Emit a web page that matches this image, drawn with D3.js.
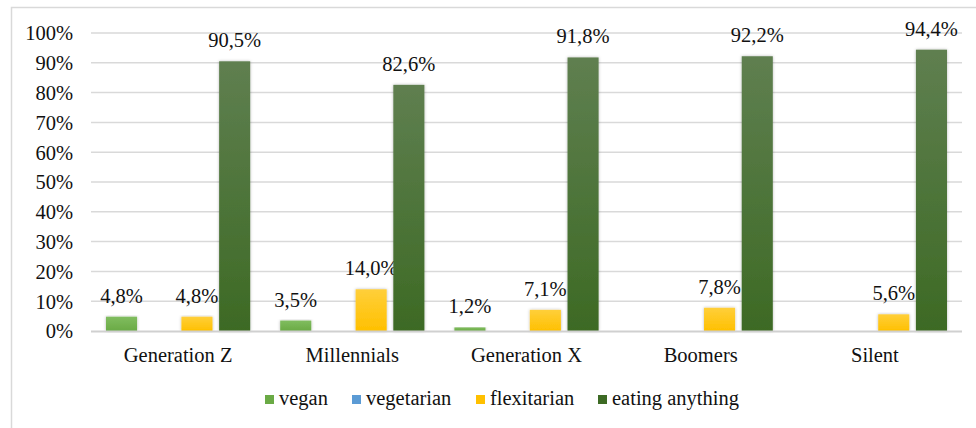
<!DOCTYPE html>
<html>
<head>
<meta charset="utf-8">
<script src="https://cdn.jsdelivr.net/npm/d3@7/dist/d3.min.js"></script>
<style>
  html, body { margin: 0; padding: 0; background: #fff; }
  svg { display: block; }
  text { font-family: "Liberation Serif", "Times New Roman", serif; fill: #111; }
</style>
</head>
<body>
<svg id="chart" width="976" height="428"></svg>
<script>
// Diet shares by generation
const categories = ["Generation Z", "Millennials", "Generation X", "Boomers", "Silent"];
const seriesNames = ["vegan", "vegetarian", "flexitarian", "eating anything"];
const vegan = [4.8, 3.5, 1.2, 0, 0];
const vegetarian = [0, 0, 0, 0, 0];
const flexitarian = [4.8, 14.0, 7.1, 7.8, 5.6];
const eatingAnything = [90.5, 82.6, 91.8, 92.2, 94.4];
const yTicks = [0, 10, 20, 30, 40, 50, 60, 70, 80, 90, 100];

const seriesValues = [vegan, vegetarian, flexitarian, eatingAnything];
const colors = {
  "vegan": ["#80bd5f", "#6aaa45"],
  "vegetarian": ["#74aee0", "#5b9bd5"],
  "flexitarian": ["#ffcf3a", "#ffc000"],
  "eating anything": ["#5f7f50", "#3d6a24"]
};

const svg = d3.select("#chart");
const defs = svg.append("defs");

seriesNames.forEach((s, i) => {
  const g = defs.append("linearGradient")
    .attr("id", "grad" + i).attr("x1", 0).attr("y1", 0).attr("x2", 0).attr("y2", 1);
  g.append("stop").attr("offset", "0%").attr("stop-color", colors[s][0]);
  g.append("stop").attr("offset", "100%").attr("stop-color", colors[s][1]);
});

const shadow = defs.append("filter").attr("id", "shadow")
  .attr("x", "-30%").attr("y", "-10%").attr("width", "160%").attr("height", "120%");
shadow.append("feDropShadow").attr("dx", 0).attr("dy", 0)
  .attr("stdDeviation", 1.6).attr("flood-color", "#000").attr("flood-opacity", 0.28);

// Outer chart frame
svg.append("path")
  .attr("d", "M11.5,430 V7.5 H980")
  .attr("fill", "none").attr("stroke", "#d9d9d9").attr("stroke-width", 1.5);

const plotLeft = 91, plotRight = 962, plotTop = 33, plotBottom = 331;

const y = d3.scaleLinear().domain([0, 100]).range([plotBottom, plotTop]);
const x0 = d3.scaleBand().domain(categories).range([plotLeft, plotRight]).padding(0);
const x1 = d3.scaleBand().domain(seriesNames)
  .range([15, x0.bandwidth() - 15]).paddingInner(0.176).paddingOuter(0);

// Gridlines
svg.append("g").selectAll("line").data(yTicks.filter(t => t > 0)).join("line")
  .attr("x1", plotLeft).attr("x2", plotRight)
  .attr("y1", d => y(d)).attr("y2", d => y(d))
  .attr("stroke", "#d9d9d9").attr("stroke-width", 1.5);

// Y axis labels
const yAxis = d3.axisLeft(y).tickValues(yTicks).tickFormat(d => d + "%").tickSize(0).tickPadding(0);
const yg = svg.append("g").attr("transform", `translate(${plotLeft - 18},0)`).call(yAxis);
yg.select(".domain").remove();
yg.selectAll("text")
  .attr("font-family", "Liberation Serif, serif").attr("font-size", 20.5)
  .attr("fill", "#111").attr("dy", "0.34em");

// Bars
const groups = svg.append("g").selectAll("g").data(categories).join("g")
  .attr("transform", d => `translate(${x0(d)},0)`);

const cells = groups.selectAll("g").data((c, ci) => seriesNames.map((s, si) => ({
  cat: c, series: s, si: si, value: seriesValues[si][ci]
}))).join("g");

cells.filter(d => d.value > 0).append("rect")
  .attr("x", d => x1(d.series))
  .attr("width", x1.bandwidth())
  .attr("y", d => y(d.value))
  .attr("height", d => y(0) - y(d.value))
  .attr("fill", d => `url(#grad${d.si})`)
  .attr("filter", "url(#shadow)");

cells.filter(d => d.value > 0).append("text")
  .attr("x", d => x1(d.series) + x1.bandwidth() / 2)
  .attr("y", d => y(d.value) - 14)
  .attr("text-anchor", "middle")
  .attr("font-size", 20.5)
  .text(d => d.value.toFixed(1).replace(".", ",") + "%");

// Baseline
svg.append("line")
  .attr("x1", plotLeft).attr("x2", plotRight)
  .attr("y1", y(0) + 0.5).attr("y2", y(0) + 0.5)
  .attr("stroke", "#d0d0d0").attr("stroke-width", 2);

// Category axis
const xAxis = d3.axisBottom(x0).tickSize(0).tickPadding(0);
const xg = svg.append("g").attr("transform", `translate(0,${y(0)})`).call(xAxis);
xg.select(".domain").remove();
xg.selectAll("text")
  .attr("font-family", "Liberation Serif, serif").attr("font-size", 20.5)
  .attr("fill", "#111").attr("dy", null).attr("y", 31);

// Legend
const legendX = [265, 352, 476, 598];
const legend = svg.append("g").selectAll("g").data(seriesNames).join("g")
  .attr("transform", (d, i) => `translate(${legendX[i]},405)`);
legend.append("rect")
  .attr("x", 0).attr("y", -10).attr("width", 9).attr("height", 9)
  .attr("fill", (d, i) => colors[d][1]);
legend.append("text")
  .attr("x", 14).attr("y", 0)
  .attr("font-size", 20.5)
  .text(d => d);
</script>
</body>
</html>
